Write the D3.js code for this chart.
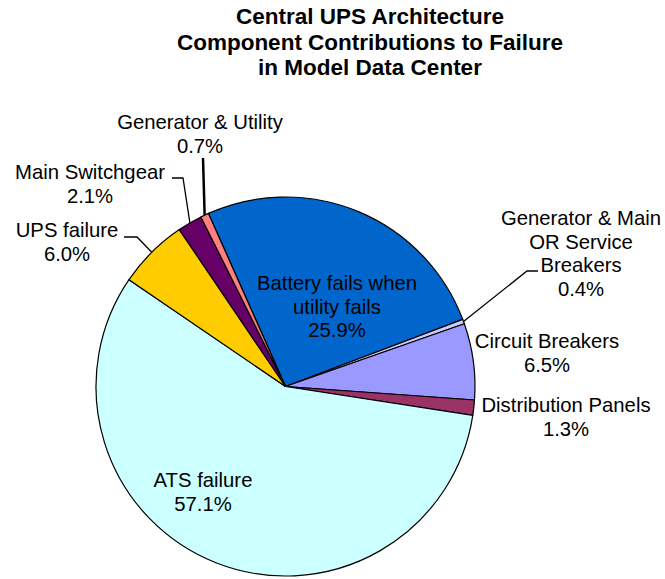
<!DOCTYPE html>
<html>
<head>
<meta charset="utf-8">
<script src="https://cdn.jsdelivr.net/npm/d3@7"></script>
<style>
  body { margin: 0; background: #fff; }
  text { font-family: Arial, "Liberation Sans", sans-serif; fill: #000; }
</style>
</head>
<body>
<script>
// slices, clockwise from the battery slice
const categories = [
    ["Battery fails when", "utility fails"],
    ["Generator & Main", "OR Service", "Breakers"],
    ["Circuit Breakers"],
    ["Distribution Panels"],
    ["ATS failure"],
    ["UPS failure"],
    ["Main Switchgear"],
    ["Generator & Utility"]
];
const values = [25.9, 0.4, 6.5, 1.3, 57.1, 6.0, 2.1, 0.7];
const colors = ["#0066CC", "#CCCCFF", "#9999FF", "#993366", "#CCFFFF", "#FFCC00", "#660066", "#FF8080"];
const titleLines = ["Central UPS Architecture", "Component Contributions to Failure", "in Model Data Center"];

// label placement: text anchor + optional leader elbow points
const labelLayout = [
    {x: 337, y: 290},
    {x: 581, y: 225, elbow: [[527, 271], [538, 271]]},
    {x: 547, y: 348},
    {x: 566, y: 412},
    {x: 203, y: 487},
    {x: 67, y: 237, elbow: [[137, 237], [124, 237]]},
    {x: 90, y: 179, elbow: [[183, 178], [172, 178]]},
    {x: 200, y: 129, elbow: [[203, 158]]}
];

const width = 665, height = 579;
const cx = 285.5, cy = 386.5, r = 189.5;
const lineH = 23.7;

const svg = d3.select("body").append("svg")
    .attr("width", width)
    .attr("height", height);

svg.append("text")
    .attr("x", 370)
    .attr("y", 24)
    .attr("text-anchor", "middle")
    .style("font-size", "22.5px")
    .style("font-weight", "bold")
    .selectAll("tspan")
    .data(titleLines)
    .enter().append("tspan")
        .attr("x", 370)
        .attr("dy", function(d, i) { return i == 0 ? 0 : 25.5; })
        .text(function(d) { return d; });

const start = -24 * Math.PI / 180;
const pie = d3.pie().sort(null).startAngle(start).endAngle(start + 2 * Math.PI);
const arcs = pie(values);
const arc = d3.arc().innerRadius(0).outerRadius(r);

const g = svg.append("g").attr("transform", "translate(" + cx + "," + cy + ")");

g.selectAll("path")
    .data(arcs)
    .enter().append("path")
        .attr("d", arc)
        .attr("fill", function(d, i) { return colors[i]; })
        .attr("stroke", "#000")
        .attr("stroke-width", 1.2)
        .attr("stroke-linejoin", "round");

// leader lines
arcs.forEach(function(a, i) {
    const lay = labelLayout[i];
    if (!lay.elbow) return;
    const mid = (a.startAngle + a.endAngle) / 2;
    const p0 = [cx + r * Math.sin(mid), cy - r * Math.cos(mid)];
    const pts = [p0].concat(lay.elbow);
    svg.append("path")
        .attr("d", d3.line()(pts))
        .attr("fill", "none")
        .attr("stroke", "#000")
        .attr("stroke-width", i == 7 ? 2.5 : 1.3);
});

// labels
arcs.forEach(function(a, i) {
    const lay = labelLayout[i];
    const lines = categories[i].concat([values[i].toFixed(1) + "%"]);
    const t = svg.append("text")
        .attr("text-anchor", "middle")
        .attr("x", lay.x)
        .attr("y", lay.y)
        .style("font-size", "20.3px");
    lines.forEach(function(s, k) {
        t.append("tspan")
            .attr("x", lay.x)
            .attr("dy", k == 0 ? 0 : lineH)
            .text(s);
    });
});
</script>
</body>
</html>
